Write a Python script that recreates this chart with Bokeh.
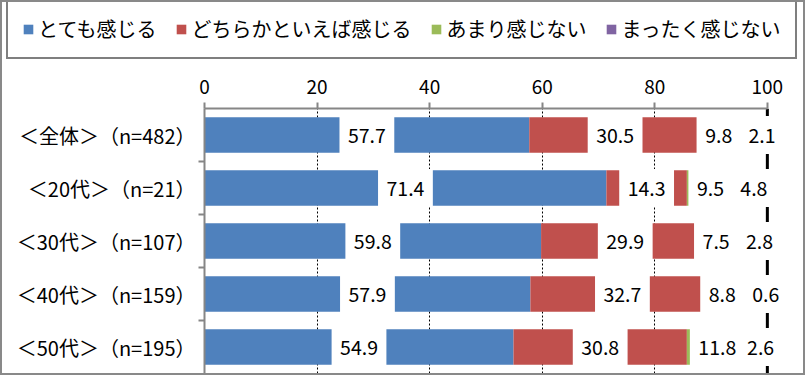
from bokeh.plotting import figure
from bokeh.layouts import column
from bokeh.models import (Range1d, FixedTicker, Legend, LegendItem, Span,
                          ColumnDataSource)
from bokeh.core.properties import value
from bokeh.embed import file_html
from bokeh.resources import INLINE

# ---------------- data ----------------
categories = ["＜全体＞（n=482）", "＜20代＞（n=21）", "＜30代＞（n=107）",
              "＜40代＞（n=159）", "＜50代＞（n=195）"]
series_names = ["とても感じる", "どちらかといえば感じる", "あまり感じない", "まったく感じない"]
very_much = [57.7, 71.4, 59.8, 57.9, 54.9]
somewhat = [30.5, 14.3, 29.9, 32.7, 30.8]
not_much = [9.8, 9.5, 7.5, 8.8, 11.8]
not_at_all = [2.1, 4.8, 2.8, 0.6, 2.6]
x_ticks = [0, 20, 40, 60, 80, 100]

# ---------------- style ----------------
colors = ["#4F81BD", "#C0504D", "#9BBB59", "#8064A2"]
FONT = "Noto Sans CJK JP"
AXIS_GRAY = "#868686"
W = 801
LEG_H = 62
MAIN_H = 309

series = [very_much, somewhat, not_much, not_at_all]
n = len(categories)
ypos = [n - 1 - i for i in range(n)]          # first category on top

# stacked extents
stack_left, stack_right = [], []
acc = [0.0] * n
for vals in series:
    stack_left.append(list(acc))
    acc = [a + v for a, v in zip(acc, vals)]
    stack_right.append(list(acc))

p = figure(width=W, height=MAIN_H, output_backend="svg", toolbar_location=None,
           x_range=Range1d(0, 105), y_range=Range1d(-0.5, n - 0.5),
           x_axis_location="above", min_border_left=202, min_border_right=8,
           min_border_top=44, min_border_bottom=0)
p.frame_align = False
p.outline_line_color = None
p.background_fill_color = "white"
p.border_fill_color = "white"

# grid
p.xgrid.ticker = FixedTicker(ticks=[t for t in x_ticks if 0 < t < x_ticks[-1]])
p.xgrid.grid_line_color = "black"
p.xgrid.grid_line_dash = "2 2"
p.xgrid.grid_line_width = 1
p.ygrid.visible = False
p.add_layout(Span(location=x_ticks[-1], dimension="height", line_color="black",
                  line_width=3, level="underlay"))

# stacked bars
segs = []
for k in range(len(series)):
    p.hbar(y=ypos, left=stack_left[k], right=stack_right[k], height=0.67,
           fill_color=colors[k], line_color=None)
    segs.append([(l + r) / 2 for l, r in zip(stack_left[k], stack_right[k])])

# label positions: centred in segment, small segments pushed apart
min_gap = 7.7
lab_x, lab_y, lab_t, lab_w = [], [], [], []
for i in range(n):
    xs = [segs[k][i] for k in range(len(series))]
    xs[2] = min(xs[2], xs[3] - min_gap)
    for k in range(len(series)):
        t = f"{series[k][i]:.1f}"
        lab_x.append(xs[k])
        lab_y.append(ypos[i])
        lab_t.append(t)
        digits = sum(c.isdigit() for c in t)
        lab_w.append(digits * 10.6 + 5 + 18)

src = ColumnDataSource(dict(x=lab_x, y=lab_y, t=lab_t, w=lab_w))
p.rect(x="x", y="y", width="w", height=38, width_units="screen",
       height_units="screen", fill_color="white", line_color=None, source=src)
p.text(x="x", y="y", text="t", source=src, text_align="center",
       text_baseline="middle", text_font=value(FONT), text_font_size="19.5px",
       text_color="black")

# x axis (top)
xa = p.xaxis[0]
xa.ticker = FixedTicker(ticks=x_ticks)
xa.bounds = (x_ticks[0], x_ticks[-1])
xa.axis_line_color = AXIS_GRAY
xa.axis_line_width = 2
xa.major_tick_out = 6
xa.major_tick_in = 0
xa.major_tick_line_color = AXIS_GRAY
xa.major_tick_line_width = 2
xa.minor_tick_line_color = None
xa.major_label_text_font = FONT
xa.major_label_text_font_size = "19px"
xa.major_label_text_color = "black"
xa.major_label_standoff = 9

# y axis (categories)
ya = p.yaxis[0]
ya.ticker = FixedTicker(ticks=ypos, minor_ticks=[y + 0.5 for y in ypos[1:]])
ya.major_label_overrides = {y: c for y, c in zip(ypos, categories)}
ya.axis_line_color = AXIS_GRAY
ya.axis_line_width = 2
ya.major_tick_out = 0
ya.major_tick_in = 0
ya.minor_tick_out = 6
ya.minor_tick_in = 0
ya.minor_tick_line_color = AXIS_GRAY
ya.minor_tick_line_width = 2
ya.major_label_text_font = FONT
ya.major_label_text_font_size = "20px"
ya.major_label_text_color = "black"
ya.major_label_standoff = 3

# legend in its own strip above the chart (its bars sit outside its view)
leg = figure(width=W, height=LEG_H, output_backend="svg", toolbar_location=None,
             x_range=Range1d(0, 1), y_range=Range1d(n, n + 1),
             x_axis_location=None, y_axis_location=None, min_border=0)
leg.frame_align = False
leg.outline_line_color = None
leg.xgrid.visible = False
leg.ygrid.visible = False
items = []
for k, (s, c) in enumerate(zip(series_names, colors)):
    r = leg.hbar(y=ypos, left=stack_left[k], right=stack_right[k], height=0.67,
                 fill_color=c, line_color=None)
    items.append(LegendItem(label=s, renderers=[r]))
legend = Legend(items=items, orientation="horizontal", location=(4, 5))
legend.label_text_font = FONT
legend.label_text_font_size = "20px"
legend.label_text_color = "black"
legend.glyph_width = 12
legend.glyph_height = 12
legend.label_standoff = 4
legend.spacing = 19
legend.padding = 14
legend.margin = 0
legend.border_line_color = "black"
legend.border_line_width = 2
legend.background_fill_color = "white"
leg.add_layout(legend)

layout = column(leg, p, spacing=0, styles={"border": "2px solid #898989"})
open("out.html", "w").write(file_html(layout, INLINE))
